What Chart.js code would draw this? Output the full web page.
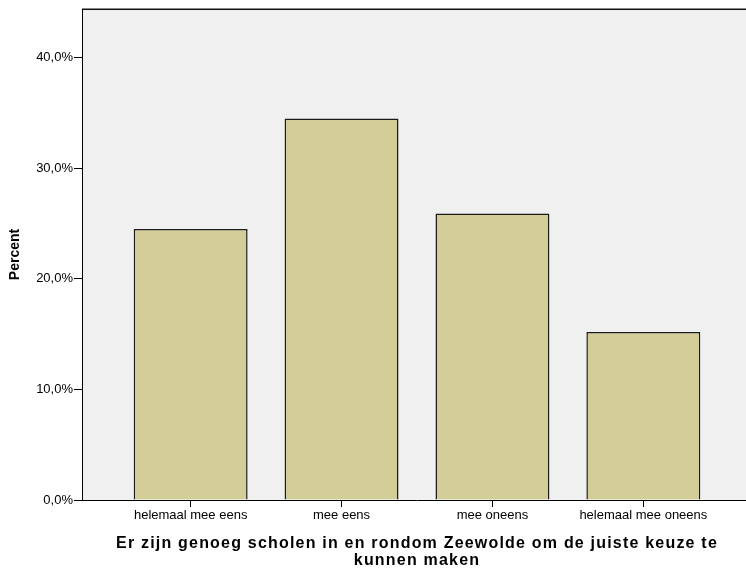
<!DOCTYPE html>
<html>
<head>
<meta charset="utf-8">
<script src="https://cdn.jsdelivr.net/npm/chart.js@4"></script>
<style>
  html, body { margin: 0; padding: 0; background: #fff; overflow: hidden; }
  canvas { display: block; }
</style>
</head>
<body>
<canvas id="c" width="752" height="569"></canvas>
<script>
const categories = ['helemaal mee eens', 'mee eens', 'mee oneens', 'helemaal mee oneens'];
const percentValues = [24.5, 34.5, 25.9, 15.2];
const yTickValues = [0, 10, 20, 30, 40];
const xTitleLines = ['Er zijn genoeg scholen in en rondom Zeewolde om de juiste keuze te', 'kunnen maken'];
const yTitle = 'Percent';

const FONT = "'Liberation Sans', Arial, sans-serif";

const bgPlugin = {
  id: 'bg',
  beforeDraw(chart) {
    const { ctx, chartArea: a } = chart;
    ctx.save();
    ctx.fillStyle = '#ffffff';
    ctx.fillRect(0, 0, chart.width, chart.height);
    ctx.fillStyle = '#f0f0f0';
    ctx.fillRect(a.left, a.top, a.right - a.left, a.bottom - a.top);
    ctx.fillStyle = '#8a8a8a';
    ctx.fillRect(a.left, a.top - 1, a.right - a.left, 1);
    ctx.fillStyle = '#111';
    ctx.fillRect(a.left, a.top, a.right - a.left, 1);
    ctx.restore();
    // letter spacing for x-axis title (SPSS-like)
    const sx = chart.scales.x;
    if (sx && !sx._lsPatched) {
      const orig = sx.drawTitle;
      sx.drawTitle = function () {
        const c = this.ctx;
        c.save();
        try { c.letterSpacing = '1.2px'; } catch (e) {}
        orig.call(this);
        c.restore();
      };
      sx._lsPatched = true;
    }
  }
};

new Chart(document.getElementById('c'), {
  type: 'bar',
  data: {
    labels: categories,
    datasets: [{
      data: percentValues.map((v, i) => ({ x: i, y: v })),
      backgroundColor: '#d3ce98',
      borderColor: '#1a1a1a',
      borderWidth: 1.5,
      barPercentage: 0.755,
      categoryPercentage: 1.0
    }]
  },
  options: {
    responsive: false,
    animation: false,
    events: [],
    layout: { padding: { top: 9, left: 0, right: 0, bottom: 0 } },
    plugins: { legend: { display: false }, tooltip: { enabled: false } },
    scales: {
      x: {
        type: 'linear',
        min: -0.72,
        max: 3.72,
        offset: false,
        afterBuildTicks: s => { s.ticks = categories.map((c, i) => ({ value: i })); },
        afterFit: s => { s.height = 69; },
        ticks: {
          autoSkip: false,
          maxRotation: 0,
          minRotation: 0,
          padding: 1,
          color: '#000',
          font: { family: FONT, size: 13 },
          callback: v => categories[v]
        },
        grid: { drawOnChartArea: false, offset: false, tickLength: 7, color: '#000', tickColor: '#000', tickWidth: 1 },
        border: { color: '#000', width: 1 },
        title: {
          display: true,
          text: xTitleLines,
          color: '#000',
          font: { family: FONT, size: 16, weight: 'bold', lineHeight: '17px' },
          padding: { top: 0, bottom: 0 }
        }
      },
      y: {
        min: 0,
        max: 44.4,
        afterBuildTicks: s => { s.ticks = yTickValues.map(v => ({ value: v })); },
        afterFit: s => { s.width = 82; },
        ticks: {
          padding: 1,
          color: '#000',
          font: { family: FONT, size: 13 },
          callback: v => v.toFixed(1).replace('.', ',') + '%'
        },
        grid: { drawOnChartArea: false, tickLength: 8, color: '#000', tickColor: '#000', tickWidth: 1 },
        border: { color: '#000', width: 1 },
        title: {
          display: true,
          text: yTitle,
          color: '#000',
          font: { family: FONT, size: 14, weight: 'bold' },
          padding: { top: 7, bottom: 0 }
        }
      }
    }
  },
  plugins: [bgPlugin]
});
</script>
</body>
</html>
